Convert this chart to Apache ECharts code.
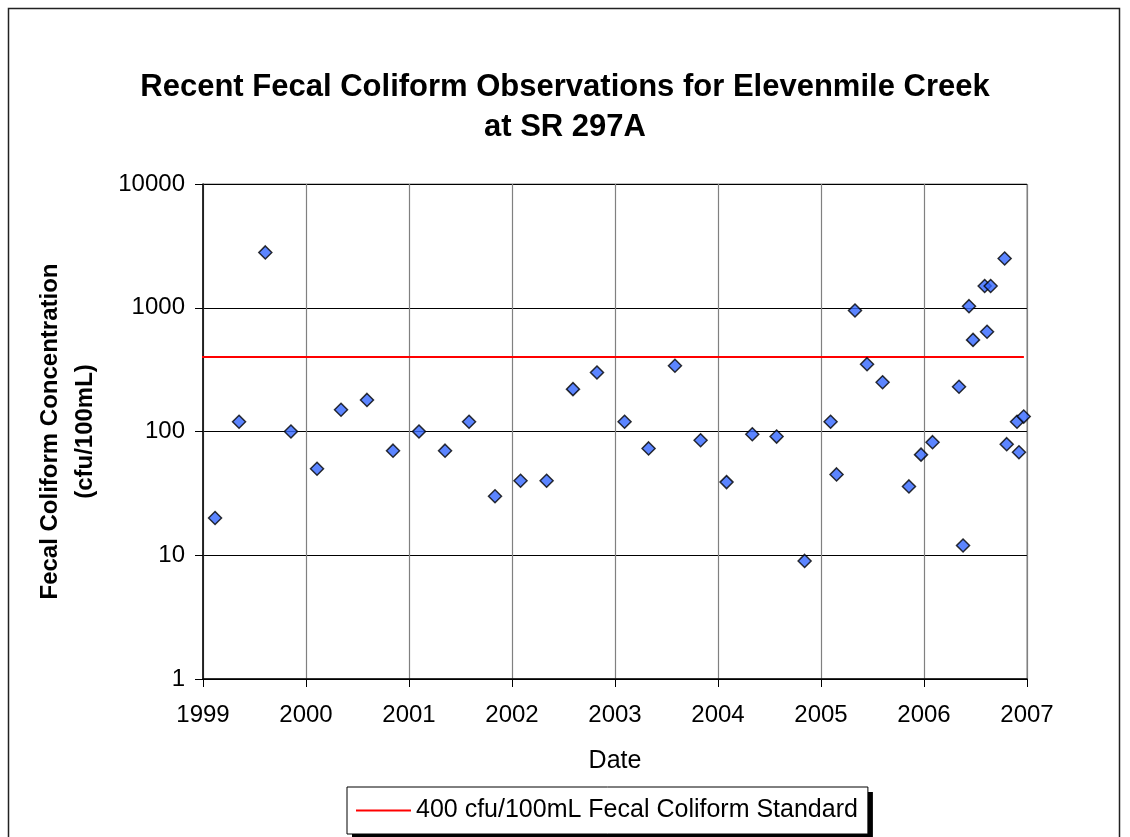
<!DOCTYPE html>
<html>
<head>
<meta charset="utf-8">
<title>Recent Fecal Coliform Observations for Elevenmile Creek at SR 297A</title>
<script src="https://cdn.jsdelivr.net/npm/echarts@6/dist/echarts.min.js"></script>
<style>
  html, body { margin: 0; padding: 0; background: #fff; }
  #chart { width: 1130px; height: 837px; }
</style>
</head>
<body>
<div id="chart"></div>
<script>
// Sampling dates as decimal years, and the fecal coliform count of each sample (cfu/100mL)
const sampleYear = [
  1999.117, 1999.350, 1999.605, 1999.854, 2000.107, 2000.340, 2000.592, 2000.845,
  2001.097, 2001.350, 2001.583, 2001.835, 2002.083, 2002.336, 2002.592, 2002.825,
  2003.093, 2003.326, 2003.582, 2003.831, 2004.083, 2004.333, 2004.569, 2004.841,
  2005.093, 2005.151, 2005.330, 2005.447, 2005.598, 2005.854, 2005.971, 2006.083,
  2006.340, 2006.379, 2006.437, 2006.476, 2006.589, 2006.612, 2006.647, 2006.783,
  2006.803, 2006.903, 2006.922, 2006.968
];
const fecalCount = [
  20, 120, 2800, 100, 50, 150, 180, 70,
  100, 70, 120, 30, 40, 40, 220, 300,
  120, 73, 340, 85, 39, 95, 91, 9,
  120, 45, 950, 350, 250, 36, 65, 82,
  230, 12, 1030, 550, 1500, 640, 1500, 2500,
  79, 120, 68, 132
];

// State standard, drawn across the sampling period
const standardName = '400 cfu/100mL Fecal Coliform Standard';
const standardValue = 400;
const standardSpan = [1998.94, 2006.97];

// Axis tick labels
const yearTicks = [1999, 2000, 2001, 2002, 2003, 2004, 2005, 2006, 2007];
const countTicks = [1, 10, 100, 1000, 10000];

const FONT = '"Liberation Sans", Arial, Helvetica, sans-serif';

// Shared legend layout; the first copy only paints the drop shadow,
// the second draws the bordered box with the line key and its text.
const legendBase = {
  data: [{ name: standardName, icon: 'rect' }],
  left: 347,
  top: 787,
  padding: [11, 10, 11, 9],
  itemWidth: 55,
  itemHeight: 2,
  textStyle: { fontFamily: FONT, fontSize: 25, color: '#000', lineHeight: 24 }
};

const chart = echarts.init(document.getElementById('chart'), null, { renderer: 'canvas' });

chart.setOption({
  backgroundColor: '#fff',
  animation: false,
  textStyle: { fontFamily: FONT, color: '#000' },
  graphic: [{
    type: 'rect',
    shape: { x: 8.5, y: 8.5, width: 1111, height: 900 },
    style: { fill: null, stroke: '#222', lineWidth: 1.5 },
    silent: true
  }],
  title: {
    text: 'Recent Fecal Coliform Observations for Elevenmile Creek\nat SR 297A',
    left: 'center',
    top: 62,
    textStyle: { fontFamily: FONT, fontSize: 31, fontWeight: 'bold', color: '#000', lineHeight: 40 }
  },
  legend: [
    Object.assign({}, legendBase, {
      z: 4,
      backgroundColor: '#fff',
      borderWidth: 0,
      shadowColor: '#000',
      shadowOffsetX: 5,
      shadowOffsetY: 5,
      shadowBlur: 0,
      itemStyle: { opacity: 0 },
      textStyle: Object.assign({}, legendBase.textStyle, { color: 'rgba(0,0,0,0)' })
    }),
    Object.assign({}, legendBase, {
      z: 5,
      backgroundColor: 'rgba(0,0,0,0)',
      borderColor: '#000',
      borderWidth: 1
    })
  ],
  grid: {
    left: 203, right: 103, top: 184, bottom: 158,
    show: true, borderColor: '#808080', borderWidth: 1, backgroundColor: '#fff'
  },
  xAxis: {
    type: 'value',
    min: yearTicks[0],
    max: yearTicks[yearTicks.length - 1],
    interval: 1,
    name: 'Date',
    nameLocation: 'middle',
    nameGap: 70,
    nameTextStyle: { fontFamily: FONT, fontSize: 25, color: '#000' },
    axisLine: { show: true, lineStyle: { color: '#000', width: 1.5 } },
    axisTick: { show: true, length: 8, lineStyle: { color: '#000' } },
    axisLabel: {
      fontFamily: FONT, fontSize: 24, color: '#000', margin: 24,
      formatter: v => yearTicks.includes(v) ? String(v) : ''
    },
    splitLine: { show: true, lineStyle: { color: '#808080', width: 1.2 } }
  },
  yAxis: {
    type: 'log',
    logBase: 10,
    min: countTicks[0],
    max: countTicks[countTicks.length - 1],
    name: 'Fecal Coliform Concentration\n(cfu/100mL)',
    nameLocation: 'middle',
    nameRotate: 90,
    nameGap: 100,
    nameTextStyle: { fontFamily: FONT, fontSize: 24, fontWeight: 'bold', color: '#000', lineHeight: 35 },
    axisLine: { show: true, lineStyle: { color: '#000', width: 1.5 } },
    axisTick: { show: true, length: 8, lineStyle: { color: '#000' } },
    axisLabel: {
      fontFamily: FONT, fontSize: 24, color: '#000', margin: 18,
      formatter: v => String(Math.round(v))
    },
    splitLine: { show: true, lineStyle: { color: '#000', width: 1 } }
  },
  series: [
    {
      name: standardName,
      type: 'line',
      data: standardSpan.map(x => [x, standardValue]),
      symbol: 'none',
      clip: false,
      lineStyle: { color: '#ff0000', width: 2 },
      itemStyle: { color: '#ff0000' },
      z: 3
    },
    {
      name: 'Fecal coliform',
      type: 'scatter',
      data: sampleYear.map((x, i) => [x, fecalCount[i]]),
      symbol: 'diamond',
      symbolSize: [13, 13],
      itemStyle: { color: '#3366ff', borderColor: '#000', borderWidth: 1.5 },
      z: 4
    }
  ]
});
</script>
</body>
</html>
